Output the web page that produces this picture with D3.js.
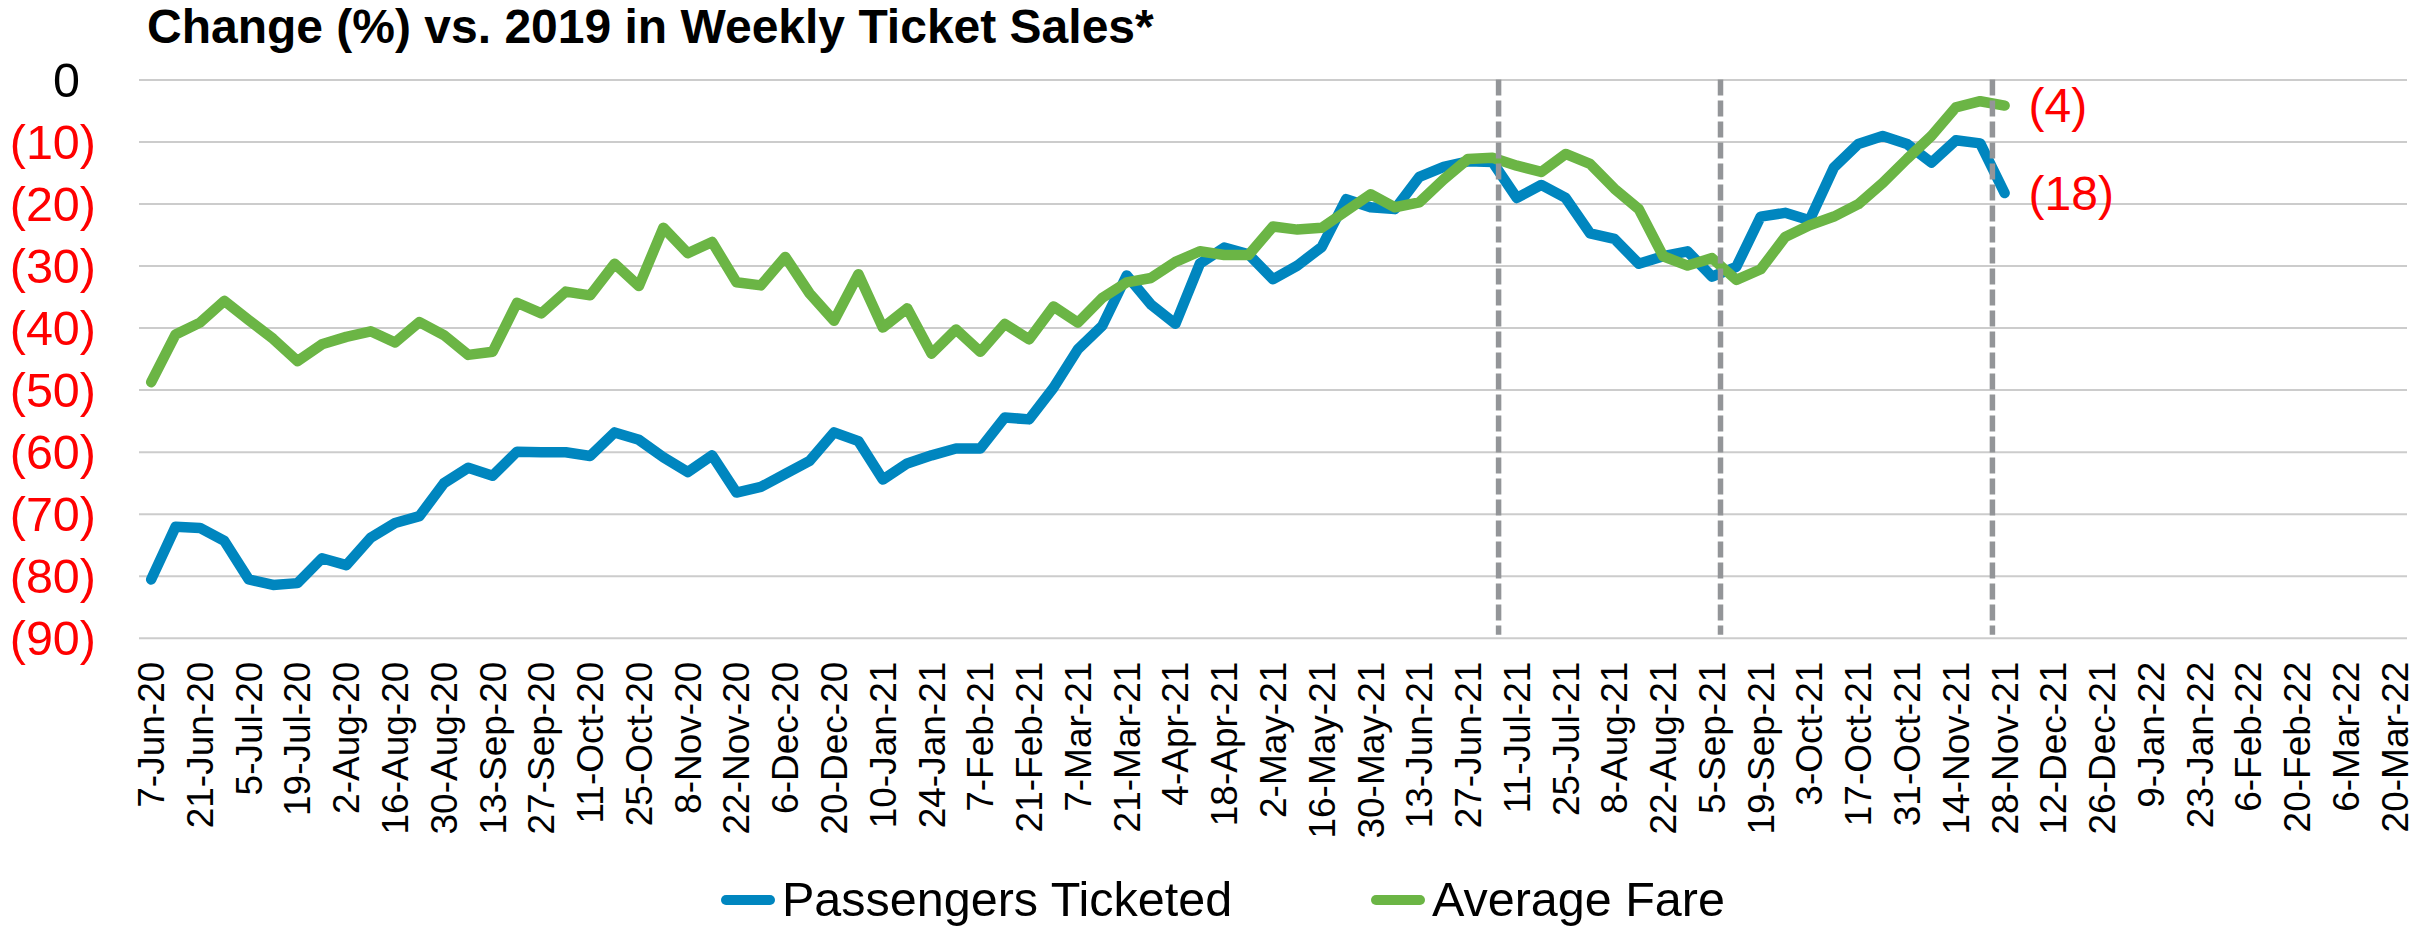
<!DOCTYPE html>
<html>
<head>
<meta charset="utf-8">
<script src="https://cdn.jsdelivr.net/npm/d3@7"></script>
<style>
  html, body { margin: 0; padding: 0; background: #fff; }
  svg { display: block; font-family: "Liberation Sans", Arial, sans-serif; }
</style>
</head>
<body>
<div id="chart"></div>
<script>
const width = 2430;
const height = 927;

// Weekly categories (every second one is labelled on the axis)
const weeks = [
  "7-Jun-20", "14-Jun-20", "21-Jun-20", "28-Jun-20", "5-Jul-20", "12-Jul-20", "19-Jul-20", "26-Jul-20",
  "2-Aug-20", "9-Aug-20", "16-Aug-20", "23-Aug-20", "30-Aug-20", "6-Sep-20", "13-Sep-20", "20-Sep-20",
  "27-Sep-20", "4-Oct-20", "11-Oct-20", "18-Oct-20", "25-Oct-20", "1-Nov-20", "8-Nov-20", "15-Nov-20",
  "22-Nov-20", "29-Nov-20", "6-Dec-20", "13-Dec-20", "20-Dec-20", "27-Dec-20", "10-Jan-21", "17-Jan-21",
  "24-Jan-21", "31-Jan-21", "7-Feb-21", "14-Feb-21", "21-Feb-21", "28-Feb-21", "7-Mar-21", "14-Mar-21",
  "21-Mar-21", "28-Mar-21", "4-Apr-21", "11-Apr-21", "18-Apr-21", "25-Apr-21", "2-May-21", "9-May-21",
  "16-May-21", "23-May-21", "30-May-21", "6-Jun-21", "13-Jun-21", "20-Jun-21", "27-Jun-21", "4-Jul-21",
  "11-Jul-21", "18-Jul-21", "25-Jul-21", "1-Aug-21", "8-Aug-21", "15-Aug-21", "22-Aug-21", "29-Aug-21",
  "5-Sep-21", "12-Sep-21", "19-Sep-21", "26-Sep-21", "3-Oct-21", "10-Oct-21", "17-Oct-21", "24-Oct-21",
  "31-Oct-21", "7-Nov-21", "14-Nov-21", "21-Nov-21", "28-Nov-21", "5-Dec-21", "12-Dec-21", "19-Dec-21",
  "26-Dec-21", "2-Jan-22", "9-Jan-22", "16-Jan-22", "23-Jan-22", "30-Jan-22", "6-Feb-22", "13-Feb-22",
  "20-Feb-22", "27-Feb-22", "6-Mar-22", "13-Mar-22", "20-Mar-22"
];

const passengers = [
  -80.6, -72.1, -72.3, -74.4, -80.6, -81.5, -81.2, -77.2, -78.3, -73.9,
  -71.5, -70.4, -65.1, -62.6, -63.9, -60.0, -60.1, -60.1, -60.7, -56.9,
  -58.1, -60.9, -63.3, -60.6, -66.6, -65.7, -63.6, -61.5, -56.9, -58.3,
  -64.5, -61.9, -60.6, -59.5, -59.5, -54.5, -54.8, -49.7, -43.5, -39.7,
  -31.6, -36.3, -39.4, -29.7, -27.1, -28.2, -32.2, -30.0, -27.0, -19.3,
  -20.6, -20.9, -15.7, -14.1, -13.2, -13.3, -19.1, -17.0, -19.1, -24.8,
  -25.7, -29.7, -28.5, -27.7, -31.8, -30.2, -22.1, -21.5, -22.7, -14.2,
  -10.4, -9.1, -10.4, -13.4, -9.8, -10.3, -18.3
];

const averageFare = [
  -48.8, -41.1, -39.2, -35.7, -38.8, -41.8, -45.4, -42.7, -41.5, -40.6,
  -42.4, -39.1, -41.2, -44.4, -43.9, -36.0, -37.7, -34.2, -34.8, -29.7,
  -33.3, -23.9, -28.0, -26.2, -32.7, -33.2, -28.6, -34.5, -38.9, -31.4,
  -40.0, -36.9, -44.2, -40.3, -43.9, -39.4, -41.9, -36.6, -39.2, -35.2,
  -32.7, -32.0, -29.4, -27.7, -28.3, -28.3, -23.7, -24.2, -23.9, -21.2,
  -18.5, -20.6, -19.8, -16.1, -12.8, -12.6, -13.9, -14.9, -12.0, -13.6,
  -17.6, -20.9, -28.5, -30.0, -28.8, -32.3, -30.6, -25.4, -23.5, -22.1,
  -20.1, -16.7, -12.8, -9.1, -4.5, -3.5, -4.2
];

const yTicks = [0, -10, -20, -30, -40, -50, -60, -70, -80, -90];
// dashed reference lines, in category index units
const markerPos = [55.25, 64.35, 75.5];
const seriesNames = ["Passengers Ticketed", "Average Fare"];
const seriesColors = ["#0086bf", "#6bb545"];

const margin = { top: 79.5, left: 139, right: 23, bottom: 289.3 };
const plotW = width - margin.left - margin.right;
const plotH = height - margin.top - margin.bottom;

const x = d3.scaleBand().domain(weeks).range([margin.left, margin.left + plotW]);
const xi = d3.scaleLinear()
  .domain([-0.5, weeks.length - 0.5])
  .range([margin.left, margin.left + plotW]);
const y = d3.scaleLinear().domain([-90, 0]).range([margin.top + plotH, margin.top]);

const fmt = (v) => (v < 0 ? `(${-v})` : `${v}`);

const svg = d3.select("#chart")
  .append("svg")
  .attr("width", width)
  .attr("height", height)
  .attr("viewBox", [0, 0, width, height]);

svg.append("rect").attr("width", width).attr("height", height).attr("fill", "#fff");

// Title
svg.append("text")
  .attr("x", 147)
  .attr("y", 43)
  .attr("font-size", 48)
  .attr("font-weight", "bold")
  .attr("fill", "#000")
  .text("Change (%) vs. 2019 in Weekly Ticket Sales*");

// Gridlines
svg.append("g")
  .attr("transform", `translate(${margin.left},0)`)
  .call(d3.axisLeft(y).tickValues(yTicks).tickSize(-plotW).tickFormat(""))
  .call((g) => g.select(".domain").remove())
  .selectAll("line")
  .attr("stroke", "#cccccc")
  .attr("stroke-width", 2);

// Y axis labels
const yAxis = svg.append("g")
  .attr("transform", "translate(96,0)")
  .call(d3.axisLeft(y).tickValues(yTicks).tickSize(0).tickPadding(0).tickFormat(fmt));
yAxis.select(".domain").remove();
yAxis.selectAll("text")
  .attr("font-size", 48.5)
  .attr("font-family", "'Liberation Sans', Arial, sans-serif")
  .attr("dy", "0.35em")
  .attr("x", (d) => (d < 0 ? 0 : -16))
  .attr("fill", (d) => (d < 0 ? "#ff0000" : "#000"));

// X axis labels
const xAxis = svg.append("g")
  .attr("transform", `translate(0,${margin.top + plotH})`)
  .call(d3.axisBottom(x).tickValues(weeks.filter((d, i) => i % 2 === 0)).tickSize(0));
xAxis.select(".domain").remove();
xAxis.selectAll("text")
  .attr("font-size", 37)
  .attr("font-family", "'Liberation Sans', Arial, sans-serif")
  .attr("fill", "#000")
  .attr("transform", "rotate(-90)")
  .attr("text-anchor", "end")
  .attr("x", -24)
  .attr("y", 0)
  .attr("dy", "0.35em");

// Lines
const line = d3.line()
  .x((d, i) => x(weeks[i]) + x.bandwidth() / 2)
  .y((d) => y(d));

[passengers, averageFare].forEach((values, k) => {
  svg.append("path")
    .datum(values)
    .attr("fill", "none")
    .attr("stroke", seriesColors[k])
    .attr("stroke-width", 10.5)
    .attr("stroke-linejoin", "round")
    .attr("stroke-linecap", "round")
    .attr("d", line);
});

// Dashed markers
svg.append("g")
  .selectAll("line")
  .data(markerPos)
  .join("line")
  .attr("x1", (d) => xi(d))
  .attr("x2", (d) => xi(d))
  .attr("y1", y(0))
  .attr("y2", y(-90) - 3)
  .attr("stroke", "#939598")
  .attr("stroke-width", 5.5)
  .attr("stroke-dasharray", "16 5");

// End labels
[passengers, averageFare].forEach((values) => {
  const last = values.length - 1;
  svg.append("text")
    .attr("x", x(weeks[last]) + x.bandwidth() / 2 + 24)
    .attr("y", y(values[last]))
    .attr("dy", "0.35em")
    .attr("font-size", 48)
    .attr("fill", "#ff0000")
    .text(fmt(Math.round(values[last])));
});

// Legend
const legendX = [721, 1371];
const legend = svg.append("g")
  .selectAll("g")
  .data(seriesNames)
  .join("g")
  .attr("transform", (d, i) => `translate(${legendX[i]},900)`);

legend.append("line")
  .attr("x1", 5)
  .attr("x2", 49)
  .attr("stroke", (d, i) => seriesColors[i])
  .attr("stroke-width", 10)
  .attr("stroke-linecap", "round");

legend.append("text")
  .attr("x", 61)
  .attr("y", 16)
  .attr("font-size", 48.5)
  .attr("fill", "#000")
  .text((d) => d);
</script>
</body>
</html>
